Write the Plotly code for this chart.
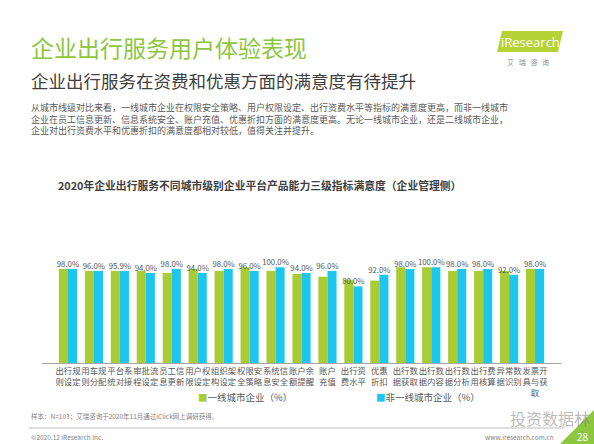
import plotly.graph_objects as go

categories = ["出行规<br>则设定", "用车规<br>则分配", "平台系<br>统对接", "审批流<br>程设定", "员工信<br>息更新",
              "用户权<br>限设定", "组织架<br>构设定", "权限安<br>全策略", "系统信<br>息安全", "账户余<br>额提醒",
              "账户<br>充值", "出行资<br>费水平", "优惠<br>折扣", "出行数<br>据获取", "出行数<br>据内容",
              "出行数<br>据分析", "出行费<br>用核算", "异常数<br>据识别", "发票开<br>具与获<br>取"]
tier1 = [98, 96, 95.9, 96, 94, 98, 96, 100, 96, 93, 90, 87, 86, 100, 100, 96, 96, 96, 98]
non_tier1 = [98, 96, 95.9, 94, 98, 94, 98, 96, 100, 94, 96, 80, 92, 98, 100, 98, 98, 92, 98]
series_names = ["一线城市企业（%）", "非一线城市企业（%）"]

GREEN = "#A9CB35"
BLUE = "#1CC6EF"
FONT = "Noto Sans CJK SC"

W, H = 594, 444
L, R, T, B = 42, 33, 248, 81
PW, PH = W - L - R, H - T - B


def px(x):
    return (x - L) / PW


def py(y):
    return (H - B - y) / PH


fig = go.Figure()
fig.add_trace(go.Bar(x=categories, y=tier1, name=series_names[0], marker_color=GREEN,
                     marker_line_width=0, showlegend=False))
fig.add_trace(go.Bar(x=categories, y=non_tier1, name=series_names[1], marker_color=BLUE,
                     marker_line_width=0, showlegend=False))
fig.add_trace(go.Scatter(x=categories, y=non_tier1, mode="text",
                         text=[f"{v:.1f}%" for v in non_tier1], textposition="top center",
                         textfont=dict(size=7.8, color="#595959", family=FONT),
                         cliponaxis=False, showlegend=False, hoverinfo="skip"))

annotations = [
    dict(text="企业出行服务用户体验表现", x=px(29), y=py(47), xanchor="left", yanchor="middle",
         font=dict(size=23, color="#8DC63F", family=FONT)),
    dict(text="企业出行服务在资费和优惠方面的满意度有待提升", x=px(29), y=py(80), xanchor="left", yanchor="middle",
         font=dict(size=17.5, color="#404040", family=FONT)),
    dict(text="从城市线级对比来看，一线城市企业在权限安全策略、用户权限设定、出行资费水平等指标的满意度更高，而非一线城市<br>"
              "企业在员工信息更新、信息系统安全、账户充值、优惠折扣方面的满意度更高。无论一线城市企业，还是二线城市企业，<br>"
              "企业对出行资费水平和优惠折扣的满意度都相对较低，值得关注并提升。",
         x=px(29), y=py(107) + 8 / PH, xanchor="left", yanchor="top", align="left",
         font=dict(size=9, color="#595959", family=FONT)),
    dict(text="<b>2020年企业出行服务不同城市级别企业平台产品能力三级指标满意度（企业管理侧）</b>",
         x=px(259), y=py(185), xanchor="center", yanchor="middle",
         font=dict(size=10.8, color="#404040", family=FONT)),
    dict(text=f"<span style='color:{GREEN}'>■</span>{series_names[0]}", x=px(196), y=py(397),
         xanchor="left", yanchor="middle", font=dict(size=9.5, color="#595959", family=FONT)),
    dict(text=f"<span style='color:{BLUE}'>■</span>{series_names[1]}", x=px(374), y=py(397),
         xanchor="left", yanchor="middle", font=dict(size=9.5, color="#595959", family=FONT)),
    dict(text="样本：N=103；艾瑞咨询于2020年11月通过iClick网上调研获得。", x=px(29), y=py(416),
         xanchor="left", yanchor="middle", font=dict(size=6.5, color="#7f7f7f", family=FONT)),
    dict(text="©2020.12 iResearch Inc.", x=px(29), y=py(437), xanchor="left", yanchor="middle",
         font=dict(size=6.5, color="#7f7f7f", family=FONT)),
    dict(text="www.iresearch.com.cn", x=px(556), y=py(437), xanchor="right", yanchor="middle",
         font=dict(size=6.5, color="#7f7f7f", family=FONT)),
    dict(text="iResearch", x=px(530), y=py(42), xanchor="center", yanchor="middle",
         font=dict(size=13, color="white", family="Open Sans")),
    dict(text="艾   瑞   咨   询", x=px(528), y=py(62), xanchor="center", yanchor="middle",
         font=dict(size=7, color="#8c8c8c", family=FONT)),
    dict(text="投资数据林", x=px(592), y=py(418), xanchor="right", yanchor="middle",
         font=dict(size=16, color="rgba(120,120,120,0.5)", family=FONT)),
    dict(text="28", x=px(591), y=py(436), xanchor="right", yanchor="middle",
         font=dict(size=10, color="white", family=FONT)),
]
for a in annotations:
    a.update(xref="paper", yref="paper", showarrow=False)

shapes = [
    dict(type="path", path=f"M {px(497)} {py(52)} L {px(502)} {py(31)} L {px(563)} {py(31)} L {px(558)} {py(52)} Z",
         fillcolor="#B5D334", line_width=0, xref="paper", yref="paper"),
    dict(type="line", x0=px(29), x1=px(565), y0=py(428), y1=py(428), line=dict(color="#BFBFBF", width=1),
         xref="paper", yref="paper"),
    dict(type="path", path=f"M {px(594)} {py(410)} L {px(594)} {py(444)} L {px(560)} {py(444)} Z",
         fillcolor="#8DC63F", line_width=0, xref="paper", yref="paper"),
]

fig.update_layout(
    width=W, height=H,
    margin=dict(l=L, r=R, t=T, b=B, autoexpand=False),
    paper_bgcolor="white", plot_bgcolor="white",
    barmode="group", bargap=0.3, bargroupgap=0,
    font=dict(family=FONT, color="#595959"),
    xaxis=dict(showline=True, linecolor="#A6A6A6", linewidth=1, ticks="", showgrid=False, automargin=False,
               tickfont=dict(size=8.4, color="#595959", family=FONT), tickangle=0),
    yaxis=dict(range=[0, 120], visible=False, showgrid=False, automargin=False),
    annotations=annotations,
    shapes=shapes,
)

fig.write_html("out.html", config={"displayModeBar": False},
               post_script="document.body.style.margin='0';document.body.style.overflow='hidden';")
